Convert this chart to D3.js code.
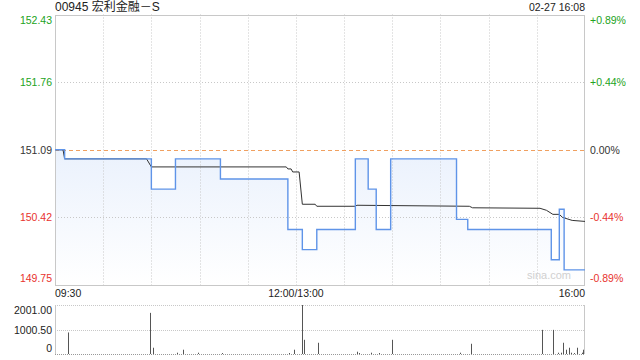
<!DOCTYPE html>
<html><head><meta charset="utf-8">
<script src="https://cdn.jsdelivr.net/npm/d3@7"></script>
<style>body{margin:0;background:#fff}svg text{font-family:"Liberation Sans",Arial,sans-serif}svg text.ttl{font-family:"Liberation Sans","Noto Sans CJK SC",sans-serif}</style>
</head><body><svg id="c" width="640" height="360"></svg>
<script>
const title = "00945 宏利金融－S";
const stamp = "02-27 16:08";
const prevClose = 151.09;
const priceTicks = [152.43, 151.76, 151.09, 150.42, 149.75];
const pctTicks = ["+0.89%", "+0.44%", "0.00%", "-0.44%", "-0.89%"];
const timeLabels = ["09:30", "12:00/13:00", "16:00"];
const timeLabelAt = ["09:30", "12:00", "16:00"];
const gridTimes = ["10:00","10:30","11:00","11:30","12:00","13:30","14:00","14:30","15:00","15:30"];
const volTicks = [2001.00, 1000.50, 0];
const volTickLabels = ["2001.00", "1000.50", "0"];

// price change points (step after)
const priceTimes = ["09:30","09:36","10:30","10:45","11:13","11:55","13:04","13:13","13:37","13:45","13:50","13:59","14:40","14:47","15:39","15:44","15:47","16:00"];
const priceVals  = [151.09, 151.00, 150.70, 151.00, 150.80, 150.30, 150.10, 150.30, 151.00, 150.70, 150.30, 151.00, 150.40, 150.30, 150.00, 150.50, 149.90, 149.90];

// average price line
const avgTimes = ["09:30","09:35","09:36","10:27","10:30","11:54","11:55","11:57","11:58","13:02","13:04","13:12","13:13","13:37","13:38","14:48","14:50","15:32","15:36","15:40","15:44","15:46","15:52","16:00"];
const avgVals  = [151.09, 151.09, 151.00, 151.00, 150.92, 150.92, 150.90, 150.90, 150.87, 150.87, 150.55, 150.55, 150.53, 150.53, 150.54, 150.53, 150.515, 150.51, 150.49, 150.45, 150.45, 150.42, 150.39, 150.38];

// volume
const volTimes = ["09:38","10:29","10:31","10:46","10:50","10:59","11:14","11:56","11:59","13:04","13:05","13:14","13:38","13:39","13:47","13:52","14:00","14:42","14:49","15:33","15:40","15:43","15:45","15:46","15:48","15:50","15:51","15:53","15:55","15:58","15:59"];
const volVals  = [880, 1680, 256, 53, 175, 53, 40, 40, 175, 2001, 580, 459, 93, 40, 53, 40, 580, 53, 418, 986, 986, 53, 53, 459, 175, 256, 53, 40, 256, 53, 175];

function tIdx(s){
  const [h,m] = s.split(":").map(Number);
  const t = h*60+m;
  return t <= 720 ? t - 570 : t - 780 + 150;
}

const L = 55, R = 585, T = 14.5, B = 285, VT = 305, VB = 354;
const svg = d3.select("#c");
const x = d3.scaleLinear().domain([0, 330]).range([L, R]);
const y = d3.scaleLinear().domain([149.75, 152.43]).range([B, T]);
const yv = d3.scaleLinear().domain([0, 2001]).range([VB, VT]);

const green = "#22a322", red = "#e8322d", dark = "#333";
const colorFor = v => v > prevClose + 1e-9 ? green : (v < prevClose - 1e-9 ? red : dark);

const defs = svg.append("defs");
const g = defs.append("linearGradient").attr("id","fillg").attr("gradientUnits","userSpaceOnUse")
  .attr("x1",0).attr("y1",T).attr("x2",0).attr("y2",B);
g.append("stop").attr("offset","0%").attr("stop-color","#d6e4fa");
g.append("stop").attr("offset","100%").attr("stop-color","#ffffff");

// title and time stamp
svg.append("text").attr("class","ttl").attr("x", L).attr("y", 11).attr("font-size", 12).attr("fill", "#222").text(title);
svg.append("text").attr("x", R).attr("y", 11).attr("font-size", 10.5).attr("text-anchor","end").attr("fill", "#222").text(stamp);

const priceData = priceTimes.map((t,i)=>({i:tIdx(t), v:priceVals[i]}));
const avgData = avgTimes.map((t,i)=>({i:tIdx(t), v:avgVals[i]}));

// area
svg.append("path").datum(priceData)
  .attr("d", d3.area().curve(d3.curveStepAfter).x(d=>x(d.i)).y0(B).y1(d=>y(d.v)))
  .attr("fill","url(#fillg)");

// grid
const grid = svg.append("g");
priceTicks.forEach(v=>{
  if (v === prevClose) return;
  grid.append("line").attr("x1",L).attr("x2",R).attr("y1",Math.round(y(v))+0.5).attr("y2",Math.round(y(v))+0.5)
    .attr("stroke","#c8c8c8").attr("stroke-dasharray","1,2");
});
gridTimes.forEach(t=>{
  const xx = Math.round(x(tIdx(t)))+0.5;
  grid.append("line").attr("x1",xx).attr("x2",xx).attr("y1",T).attr("y2",B)
    .attr("stroke","#c8c8c8").attr("stroke-dasharray","1,2");
});
// previous close
svg.append("line").attr("x1",L).attr("x2",R).attr("y1",Math.round(y(prevClose))+0.5).attr("y2",Math.round(y(prevClose))+0.5)
  .attr("stroke","#f0a060").attr("stroke-dasharray","4,3");

// frame
svg.append("rect").attr("x",L+0.5).attr("y",Math.round(T)+0.5).attr("width",R-L-1).attr("height",Math.round(B)-Math.round(T))
  .attr("fill","none").attr("stroke","#c8c8c8");

// watermark
svg.append("text").attr("x", 549).attr("y", 279).attr("text-anchor","middle").attr("font-size", 11)
  .attr("fill","#d0d0d0").text("sina.com");

// lines
svg.append("path").datum(avgData)
  .attr("d", d3.line().x(d=>x(d.i)).y(d=>y(d.v)))
  .attr("fill","none").attr("stroke","#333").attr("stroke-width",1);
svg.append("path").datum(priceData)
  .attr("d", d3.line().curve(d3.curveStepAfter).x(d=>x(d.i)).y(d=>y(d.v)))
  .attr("fill","none").attr("stroke","#5f94e8").attr("stroke-width",1.4);

// left / right labels
priceTicks.forEach((v,k)=>{
  let yy = y(v) + 4;
  if (k === 0) yy = y(v) + 9;
  if (k === priceTicks.length-1) yy = y(v) - 3;
  svg.append("text").attr("x", 52).attr("y", yy).attr("text-anchor","end").attr("font-size",10.5)
    .attr("fill", colorFor(v)).text(v.toFixed(2));
  svg.append("text").attr("x", 590).attr("y", yy).attr("text-anchor","start").attr("font-size",10.5)
    .attr("fill", colorFor(v)).text(pctTicks[k]);
});

// time labels
timeLabels.forEach((s,k)=>{
  const anchor = k===0 ? "start" : (k===timeLabels.length-1 ? "end" : "middle");
  svg.append("text").attr("x", x(tIdx(timeLabelAt[k]))).attr("y", 297).attr("text-anchor", anchor)
    .attr("font-size",10.5).attr("fill","#222").text(s);
});

// volume panel
volTicks.forEach((v,k)=>{
  const yy = Math.round(yv(v))+0.5;
  svg.append("line").attr("x1",L).attr("x2",R).attr("y1",yy).attr("y2",yy)
    .attr("stroke", v===0 ? "#999" : "#c8c8c8").attr("stroke-dasharray","1,1");
  let ty = yv(v) + 4;
  if (k===0) ty = yv(v) + 9;
  if (k===volTicks.length-1) ty = yv(v) - 2;
  svg.append("text").attr("x", 52).attr("y", ty).attr("text-anchor","end").attr("font-size",10.5)
    .attr("fill","#222").text(volTickLabels[k]);
});
svg.append("line").attr("x1",L+0.5).attr("x2",L+0.5).attr("y1",VT).attr("y2",VB).attr("stroke","#c8c8c8");
svg.append("line").attr("x1",R-0.5).attr("x2",R-0.5).attr("y1",VT).attr("y2",VB).attr("stroke","#c8c8c8");

svg.append("g").selectAll("rect").data(volTimes.map((t,i)=>({i:tIdx(t), v:volVals[i]})))
  .join("rect")
  .attr("x", d=>Math.round(x(d.i)))
  .attr("width", 1)
  .attr("y", d=>yv(d.v))
  .attr("height", d=>VB - yv(d.v))
  .attr("fill","#555");
</script></body></html>
